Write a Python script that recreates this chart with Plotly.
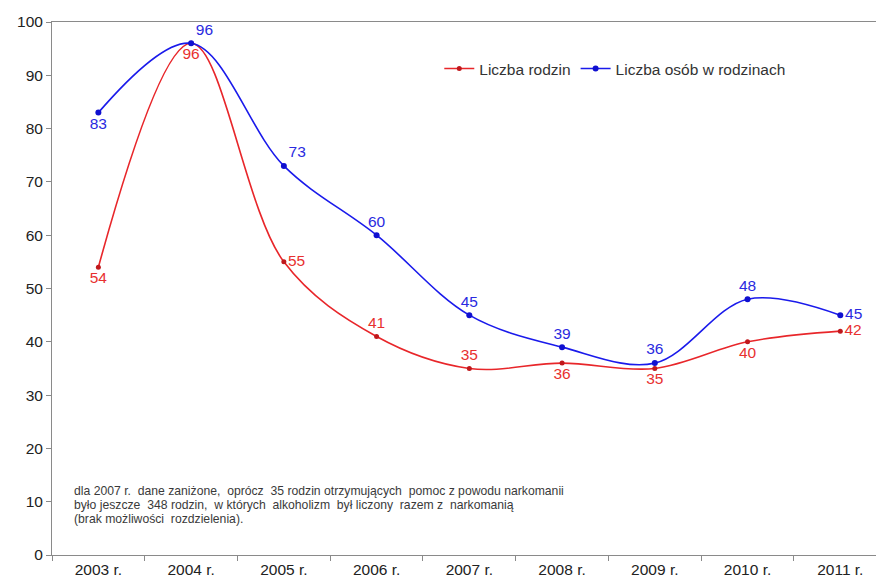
import plotly.graph_objects as go

years = ["2003 r.", "2004 r.", "2005 r.", "2006 r.", "2007 r.", "2008 r.", "2009 r.", "2010 r.", "2011 r."]
rodziny = [54, 96, 55, 41, 35, 36, 35, 40, 42]
osoby = [83, 96, 73, 60, 45, 39, 36, 48, 45]

pos_rodziny = ["bottom center", "bottom center", "middle right", "top center", "top center",
               "bottom center", "bottom center", "bottom center", "middle right"]
pos_osoby = ["bottom center", "top right", "top right", "top center", "top center",
             "top center", "top center", "top center", "middle right"]

note_lines = [
    "dla 2007 r.  dane zaniżone,  oprócz  35 rodzin otrzymujących  pomoc z powodu narkomanii",
    "było jeszcze  348 rodzin,  w których  alkoholizm  był liczony  razem z  narkomanią",
    "(brak możliwości  rozdzielenia).",
]
note_y = [12.1, 9.45, 6.8]

x = list(range(len(years)))
font = "Liberation Sans, Arial, sans-serif"

fig = go.Figure()
fig.add_trace(go.Scatter(
    x=x, y=rodziny, name="Liczba rodzin", mode="lines+markers+text",
    line=dict(color="#e8262a", width=1.6, shape="spline", smoothing=1.0),
    marker=dict(color="#c0181c", size=5),
    text=[str(v) for v in rodziny], textposition=pos_rodziny,
    textfont=dict(color="#e8302f", size=15.5, family=font),
))
fig.add_trace(go.Scatter(
    x=x, y=osoby, name="Liczba osób w rodzinach", mode="lines+markers+text",
    line=dict(color="#1a1aeb", width=1.6, shape="spline", smoothing=1.0),
    marker=dict(color="#1010d0", size=6),
    text=[str(v) for v in osoby], textposition=pos_osoby,
    textfont=dict(color="#2a2ae0", size=15.5, family=font),
))

for line, yv in zip(note_lines, note_y):
    fig.add_annotation(
        x=-0.28, y=yv, xref="x", yref="y", xanchor="left", yanchor="middle",
        showarrow=False, align="left", text=line,
        font=dict(size=12.2, color="#3a3a3a", family=font),
    )

fig.update_layout(
    width=876, height=585,
    margin=dict(l=52, r=0, t=22, b=30),
    paper_bgcolor="white", plot_bgcolor="white",
    font=dict(family=font, color="#222222"),
    showlegend=True,
    legend=dict(orientation="h", x=0.47, y=0.912, xanchor="left", yanchor="middle",
                font=dict(size=15.5, color="#333333", family=font), bgcolor="rgba(0,0,0,0)",
                itemwidth=30),
    xaxis=dict(
        range=[-0.5, 8.385], tickmode="array", tickvals=x, ticktext=years,
        ticks="", showgrid=False, zeroline=False,
        showline=True, linecolor="#8a8a8a", linewidth=1, mirror=True,
        tickfont=dict(size=15.5, color="#222222"),
        minor=dict(tickvals=[i - 0.5 for i in range(10)], ticks="outside", ticklen=5, tickcolor="#8a8a8a"),
    ),
    yaxis=dict(
        range=[0, 100], tickmode="array", tickvals=list(range(0, 101, 10)),
        ticks="outside", ticklen=5, tickcolor="#8a8a8a",
        showgrid=False, zeroline=False, showline=True, linecolor="#8a8a8a", linewidth=1,
        tickfont=dict(size=15.5, color="#222222"),
    ),
)

fig.write_html("out.html")
